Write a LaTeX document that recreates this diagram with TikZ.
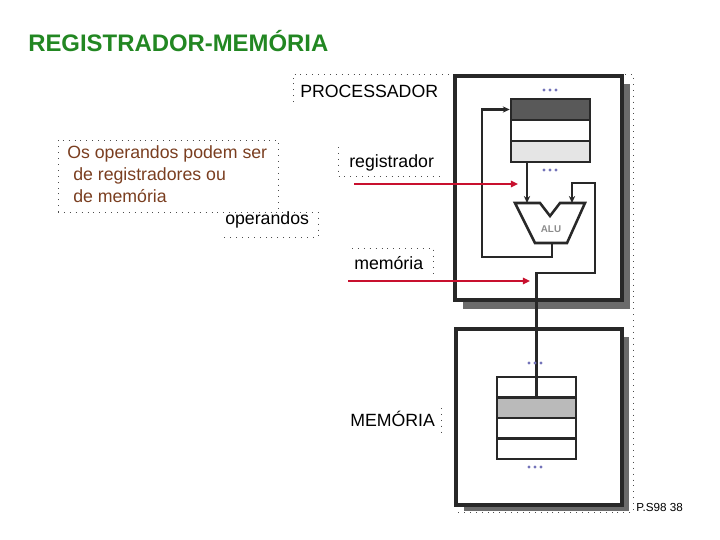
\documentclass[tikz,border=0pt]{standalone}
\usepackage{fontspec}
\setmainfont{Liberation Sans}
\usetikzlibrary{positioning,arrows.meta}
\definecolor{titlegreen}{RGB}{34,135,34}
\definecolor{notebrown}{RGB}{122,62,32}
\definecolor{busred}{RGB}{200,16,46}
\definecolor{boxline}{RGB}{40,40,40}
\begin{document}
\begin{tikzpicture}[x=0.25mm, y=-0.25mm, font=\fontsize{12.6}{15}\selectfont,
		txt/.style={anchor=base west, inner sep=0pt},
		frm/.style={black!70, line width=0.6pt, dash pattern=on 0.6pt off 3.6pt},
		unit/.style={draw=boxline, line width=2.3pt, fill=white},
		shadow/.style={fill=black!58, draw=none},
		regrow/.style={draw=boxline, line width=1.8pt, minimum width=19.75mm, inner sep=0pt},
		wire/.style={draw=boxline, line width=1.7pt},
		bus/.style={busred, line width=1.5pt, -{Triangle[length=5pt, width=4.5pt]}}]
	\useasboundingbox (0,0) rectangle (720,540);
	% titulo
	\node[txt, titlegreen, font=\fontsize{17}{20}\selectfont\bfseries] (title) at (28,51) {REGISTRADOR-MEMÓRIA};
	% molduras pontilhadas das caixas de texto
	\draw[frm] (293,102) -- (293,74) -- (633,74) -- (633,512) -- (456,512);
	\draw[frm] (58,212) -- (58,140) -- (278,140) -- (278,212);
	\draw[frm] (58,212) -- (318,212) -- (318,237) -- (222,237);
	\draw[frm] (338,147) -- (338,176) -- (444,176);
	\draw[frm] (352,248) -- (433,248) -- (433,276);
	\draw[frm] (441,408) -- (441,432);
	% processador
	\fill[shadow] (463,84) rectangle (630,309);
	\draw[unit] (455,76) rectangle (622,300);
	\node[regrow, fill=black!65, minimum height=5.25mm] (r1) at (550.5,109.5) {};
	\node[regrow, fill=white,    minimum height=5.25mm] (r2) at (550.5,130.5) {};
	\node[regrow, fill=black!10, minimum height=5.25mm] (r3) at (550.5,151.5) {};
	% ALU
	\draw[draw=boxline, line width=1.8pt, fill=white]
		(515,203) -- (540,203) -- (550,216) -- (560,203) -- (585,203) -- (567,243) -- (535,243) -- cycle;
	\node[black!45, font=\fontsize{7}{8}\selectfont\bfseries] (alu) at (551,229) {ALU};
	\coordinate (ina) at (527,203);
	\coordinate (inb) at (572,203);
	\coordinate (aluout) at (552,243);
	% memoria
	\fill[shadow] (464,337) rectangle (629,511);
	\draw[unit] (456,329) rectangle (622,505);
	\node[regrow, fill=white,    minimum height=5.125mm] (m1) at (536.5,387.25) {};
	\node[regrow, fill=black!27, minimum height=5.125mm] (m2) at (536.5,407.75) {};
	\node[regrow, fill=white,    minimum height=5.125mm] (m3) at (536.5,428.25) {};
	\node[regrow, fill=white,    minimum height=5.125mm] (m4) at (536.5,448.75) {};
	% ligacoes
	\draw[wire, -{Stealth[length=5pt, width=4.5pt]}] (r3.south -| ina) -- (ina);
	\draw[wire, -{Stealth[length=5pt, width=4.5pt]}] (aluout) -- (552,257) -- (482,257) -- (482,109.5) -- (r1.west);
	\draw[wire, -{Stealth[length=5pt, width=4.5pt]}] (m1.south) -- (536.5,273) -- (595,273) -- (595,183) -- (572,183) -- (inb);
	% reticencias
	\foreach \px/\py in {550/90, 550/170, 535/363, 535/467}
		\foreach \dx in {-6,0,6}
			\fill[black!50!blue!55] (\px+\dx,\py) circle (1.6);
	% textos
	\node[txt] (proc) at (300,97) {PROCESSADOR};
	\node[txt] (lreg) at (349,167) {registrador};
	\node[txt] (ops) at (225,224) {operandos};
	\node[txt] (lmem) at (354,269) {memória};
	\node[txt] (mem) at (350,426) {MEMÓRIA};
	\node[txt, notebrown] (n1) at (67,158) {Os operandos podem ser};
	\node[txt, notebrown] (n2) at (73,180) {de registradores ou};
	\node[txt, notebrown] (n3) at (73,202) {de memória};
	\node[txt, font=\fontsize{8.3}{10}\selectfont] (pg) at (636,511) {P.S98 38};
	% setas vermelhas
	\coordinate (regtip) at (518,184);
	\coordinate (memtip) at (530,281);
	\draw[bus] (354,184) -- (regtip);
	\draw[bus] (348,281) -- (memtip);
\end{tikzpicture}
\end{document}
